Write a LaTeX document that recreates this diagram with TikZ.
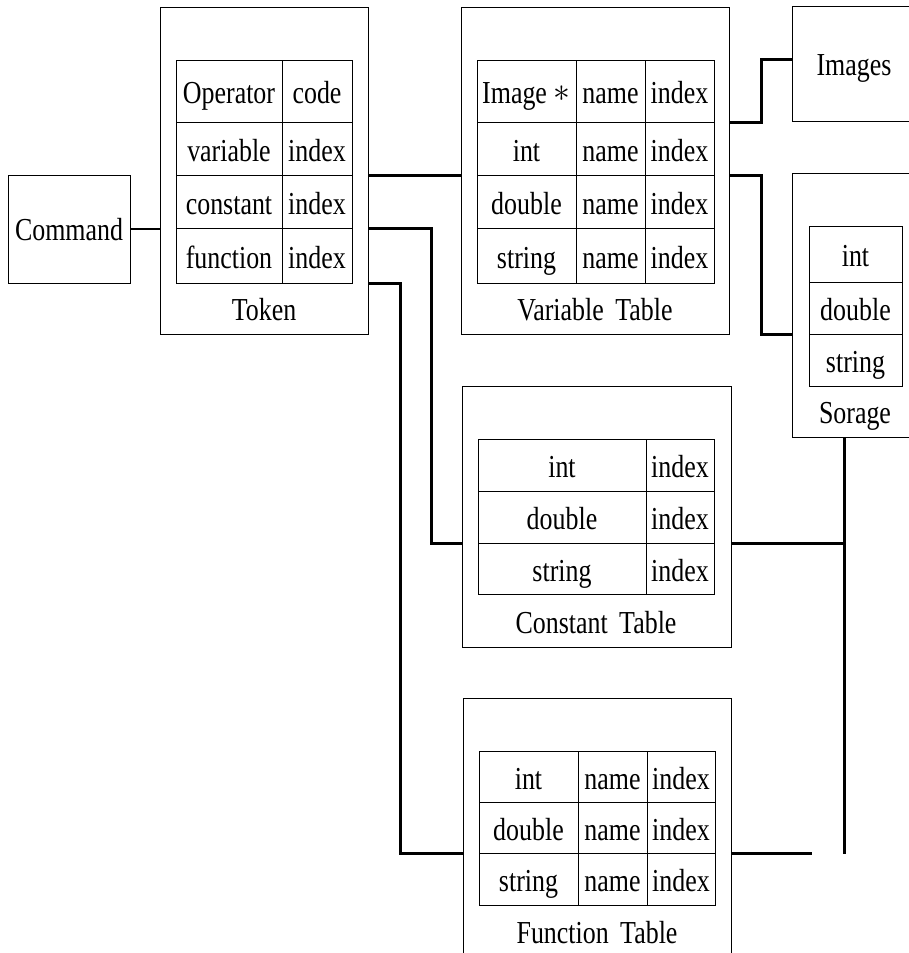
\documentclass[tikz,border=0pt]{standalone}
\usepackage{fontspec}
\usepackage{graphicx}
\setmainfont[FakeStretch=0.81]{Liberation Serif}
\usetikzlibrary{calc}

\begin{document}
\begin{tikzpicture}[
  x=1pt, y=-1pt,
  font=\fontsize{32}{36}\selectfont,
  frame/.style={draw, line width=1pt, inner sep=0pt},
  cell/.style={draw, line width=1pt, inner sep=0pt, text height=30pt, text depth=5pt},
  ttl/.style={anchor=base, inner sep=0pt},
  wire/.style={line width=2.8pt},
]
\clip (0,0) rectangle (909,953);

% ---------------- outer frames ----------------
\foreach \n/\xa/\ya/\xb/\yb in {cmd/8/175/130/283, tok/160/7/368/334, vt/461/7/729/334,
    img/792/6/919/121, sor/792/173/919/437, ct/462/386/731/647, ft/463/698/731/958}
  \node[frame, minimum width={(\xb-\xa)*1pt}, minimum height={(\yb-\ya)*1pt}]
    (\n) at ({(\xa+\xb)/2},{(\ya+\yb)/2}) {};

\node[ttl] (cmdT) at (69,240) {Command};
\node[ttl] (imgT) at (854,75) {Images};

% ---------------- token ----------------
\foreach \r/\ya/\yb/\a/\b in {1/60/122/Operator/code, 2/122/175/variable/index,
    3/175/228/constant/index, 4/228/283/function/index}{
  \node[cell, minimum width=106pt, minimum height={(\yb-\ya)*1pt}] (tok-\r-1) at (229,{(\ya+\yb)/2}) {\a};
  \node[cell, minimum width=70pt, minimum height={(\yb-\ya)*1pt}] (tok-\r-2) at (317,{(\ya+\yb)/2}) {\b};
}
\node[ttl] (tokT) at (264,320) {Token};

% ---------------- variable table ----------------
\foreach \r/\ya/\yb/\a in {1/60/122/{Image\hspace{7pt}\raisebox{2pt}{\scalebox{1.35}{$\ast$}}}, 2/122/175/int,
    3/175/228/double, 4/228/283/string}{
  \node[cell, minimum width=99pt, minimum height={(\yb-\ya)*1pt}] (vt-\r-1) at (526.5,{(\ya+\yb)/2}) {\a};
  \node[cell, minimum width=69pt, minimum height={(\yb-\ya)*1pt}] (vt-\r-2) at (610.5,{(\ya+\yb)/2}) {name};
  \node[cell, minimum width=69pt, minimum height={(\yb-\ya)*1pt}] (vt-\r-3) at (679.5,{(\ya+\yb)/2}) {index};
}
\node[ttl] (vtT) at (595,320) {Variable\hspace{5pt} Table};

% ---------------- storage ----------------
\foreach \r/\ya/\yb/\a in {1/226/282/int, 2/282/334/double, 3/334/386/string}
  \node[cell, minimum width=93pt, minimum height={(\yb-\ya)*1pt}] (sor-\r-1) at (855.5,{(\ya+\yb)/2}) {\a};
\node[ttl] (sorT) at (855,423) {Sorage};

% ---------------- constant table ----------------
\foreach \r/\ya/\yb/\a in {1/439/491/int, 2/491/543/double, 3/543/594/string}{
  \node[cell, minimum width=168pt, minimum height={(\yb-\ya)*1pt}] (ct-\r-1) at (562,{(\ya+\yb)/2}) {\a};
  \node[cell, minimum width=68pt, minimum height={(\yb-\ya)*1pt}] (ct-\r-2) at (680,{(\ya+\yb)/2}) {index};
}
\node[ttl] (ctT) at (596,633) {Constant\hspace{5pt} Table};

% ---------------- function table ----------------
\foreach \r/\ya/\yb/\a in {1/751/802/int, 2/802/853/double, 3/853/905/string}{
  \node[cell, minimum width=99pt, minimum height={(\yb-\ya)*1pt}] (ft-\r-1) at (528.5,{(\ya+\yb)/2}) {\a};
  \node[cell, minimum width=69pt, minimum height={(\yb-\ya)*1pt}] (ft-\r-2) at (612.5,{(\ya+\yb)/2}) {name};
  \node[cell, minimum width=68pt, minimum height={(\yb-\ya)*1pt}] (ft-\r-3) at (681,{(\ya+\yb)/2}) {index};
}
\node[ttl] (ftT) at (597,943) {Function\hspace{5pt} Table};

% ---------------- wiring ----------------
\coordinate (busT) at ([xshift=-11pt]sor.south);
\coordinate (busB) at (busT |- ft-2-1.south);
\coordinate (ftEnd) at ([xshift=-33pt]busB);

\draw[wire] (cmd.east) -- (cmd.east -| tok.west);
\draw[wire] (tok-2-2.south -| tok.east) -- (tok-2-2.south -| vt.west);
\draw[wire] (tok-3-2.south -| tok.east) -- ++(63,0) |- (ct-2-1.south -| ct.west);
\draw[wire] (tok-4-2.south -| tok.east) -- ++(32,0) |- (ft-2-1.south -| ft.west);
\draw[wire] (vt-1-3.south -| vt.east) -- ++(32,0) |- (vt-1-1.north -| img.west);
\draw[wire] (vt-2-3.south -| vt.east) -- ++(32,0) |- (sor-2-1.south -| sor.west);
\draw[wire] (ct-2-2.south -| ct.east) -- (ct-2-2.south -| busT);
\draw[wire] (busT) -- (busB);
\draw[wire] (ft-2-3.south -| ft.east) -- (ftEnd);

\end{tikzpicture}
\end{document}
